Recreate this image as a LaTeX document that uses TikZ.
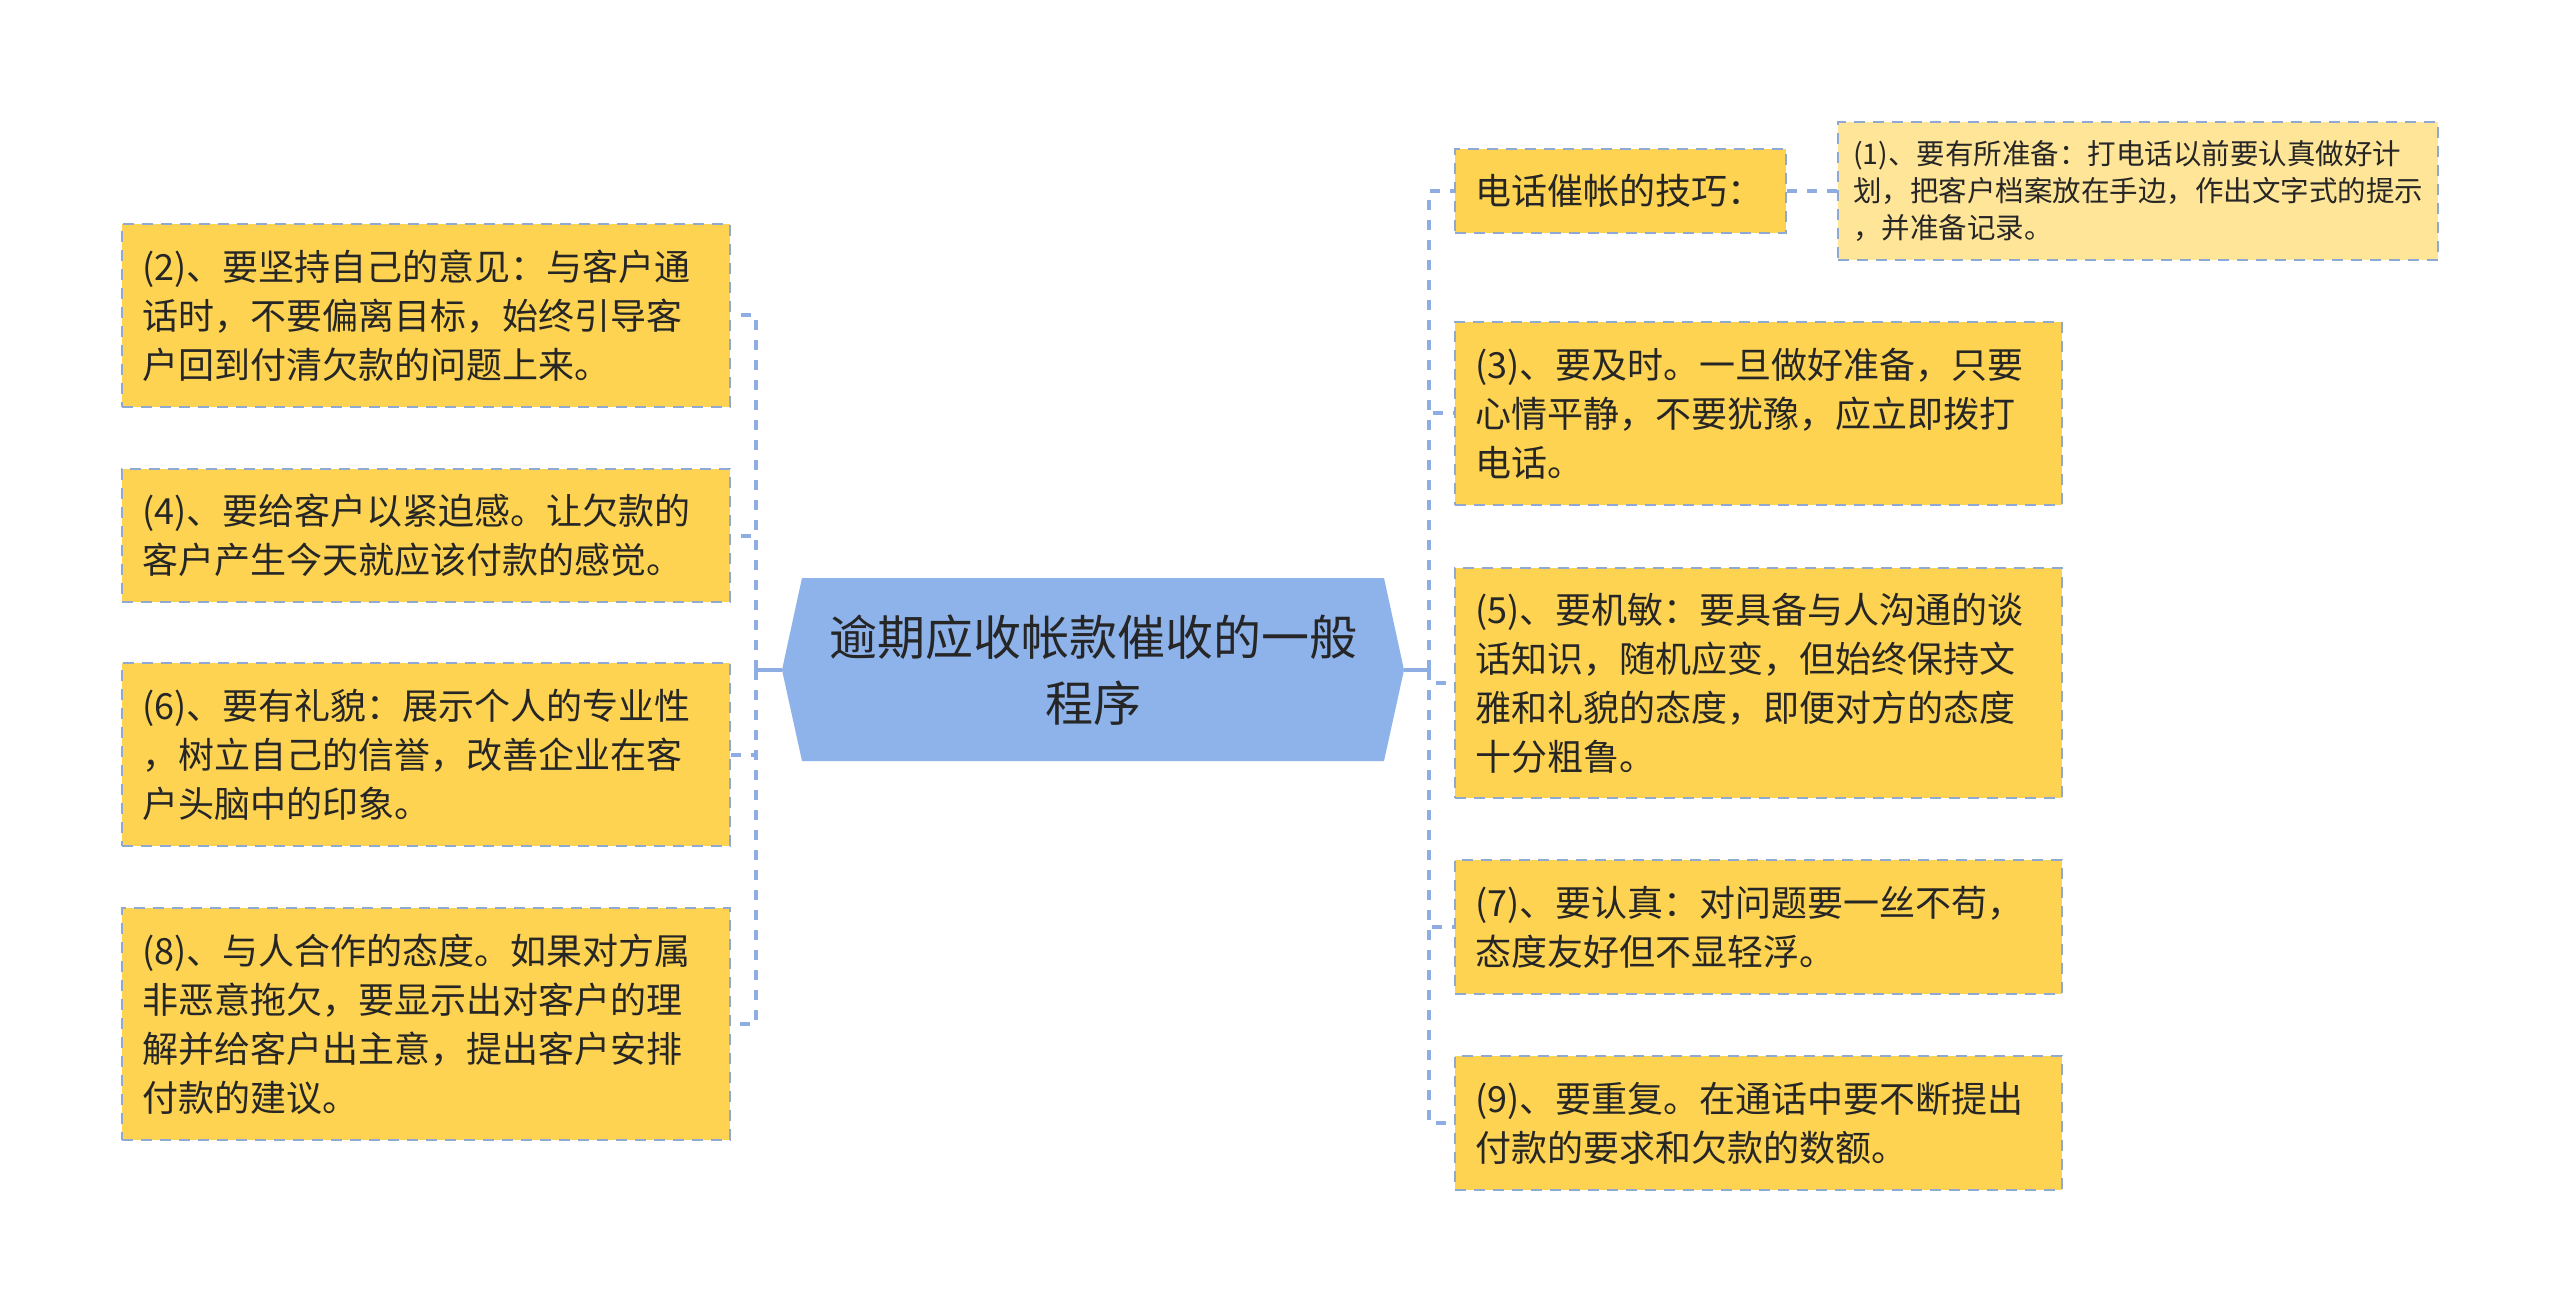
\documentclass[tikz,border=0pt]{standalone}
\usepackage{fontspec}
\setmainfont{Noto Sans CJK SC}
\definecolor{boxfill}{HTML}{FDD351}
\definecolor{lightfill}{HTML}{FFE597}
\definecolor{boxline}{HTML}{8FA9D3}
\definecolor{linkc}{HTML}{8DADE3}
\definecolor{centerfill}{HTML}{8EB3EA}
\definecolor{txt}{HTML}{262626}
\begin{document}
\begin{tikzpicture}[x=1pt,y=-1pt,
  leaf/.style={draw=boxline, fill=boxfill, line width=2.2pt, dash pattern=on 11pt off 8pt,
    inner xsep=20pt, inner ysep=0pt, align=left, text=txt,
    font=\fontsize{36}{49}\selectfont},
  dashlink/.style={draw=linkc, line width=4pt, dash pattern=on 10pt off 10pt},
  solidlink/.style={draw=linkc, line width=4pt}
]
\useasboundingbox (0,0) rectangle (2560,1313);
\fill[white] (0,0) rectangle (2560,1313);

% center hexagon
\fill[centerfill] (782,670) -- (802,578) -- (1384,578) -- (1404,670) -- (1384,761) -- (802,761) -- cycle;
\node[font=\fontsize{48}{66}\selectfont, text=txt, minimum width=622pt, minimum height=183pt,
  inner sep=0pt, align=center] (c) at (1093,670) {逾期应收帐款催收的一般\\程序};

% left boxes
\node[leaf, text width=568pt, minimum height=183pt] (b2) at (426,315.5)
  {(2)、要坚持自己的意见：与客户通\\话时，不要偏离目标，始终引导客\\户回到付清欠款的问题上来。};
\node[leaf, text width=568pt, minimum height=133pt] (b4) at (426,535.5)
  {(4)、要给客户以紧迫感。让欠款的\\客户产生今天就应该付款的感觉。};
\node[leaf, text width=568pt, minimum height=183pt] (b6) at (426,754.5)
  {(6)、要有礼貌：展示个人的专业性\\，树立自己的信誉，改善企业在客\\户头脑中的印象。};
\node[leaf, text width=568pt, minimum height=232pt] (b8) at (426,1024)
  {(8)、与人合作的态度。如果对方属\\非恶意拖欠，要显示出对客户的理\\解并给客户出主意，提出客户安排\\付款的建议。};

% right boxes
\node[leaf, text width=291pt, minimum height=84pt] (tel) at (1620.5,191) {电话催帐的技巧：};
\node[leaf, fill=lightfill, inner xsep=15pt, text width=570pt, minimum height=138pt,
  font=\fontsize{28.5}{37}\selectfont] (b1) at (2138,191)
  {(1)、要有所准备：打电话以前要认真做好计\\划，把客户档案放在手边，作出文字式的提示\\，并准备记录。};
\node[leaf, text width=567pt, minimum height=183pt] (b3) at (1758.5,413.5)
  {(3)、要及时。一旦做好准备，只要\\心情平静，不要犹豫，应立即拨打\\电话。};
\node[leaf, text width=567pt, minimum height=230pt] (b5) at (1758.5,683)
  {(5)、要机敏：要具备与人沟通的谈\\话知识，随机应变，但始终保持文\\雅和礼貌的态度，即便对方的态度\\十分粗鲁。};
\node[leaf, text width=567pt, minimum height=134pt] (b7) at (1758.5,927)
  {(7)、要认真：对问题要一丝不苟，\\态度友好但不显轻浮。};
\node[leaf, text width=567pt, minimum height=134pt] (b9) at (1758.5,1123)
  {(9)、要重复。在通话中要不断提出\\付款的要求和欠款的数额。};

% connectors
\coordinate (lj) at (756,670);
\coordinate (rj) at (1429,670);
\draw[solidlink] (c.west) -- (lj);
\draw[solidlink] (c.east) -- (rj);
\foreach \n in {b2,b4,b6,b8} \draw[dashlink] (lj) |- (\n.east);
\foreach \n in {tel,b3,b5,b7,b9} \draw[dashlink] (rj) |- (\n.west);
\draw[dashlink] (tel.east) -- (b1.west);
\end{tikzpicture}
\end{document}
